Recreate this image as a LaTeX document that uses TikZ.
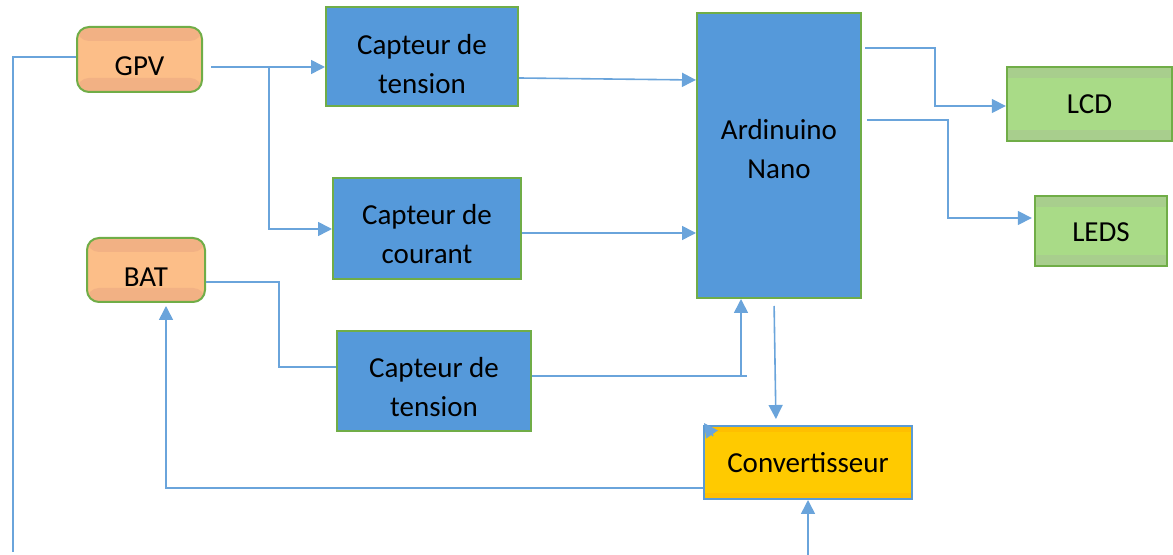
\documentclass[tikz,border=0pt]{standalone}
\usepackage{fontspec}
\setmainfont{Carlito}
\usetikzlibrary{arrows.meta,calc}
\definecolor{grn}{HTML}{70AD47}
\definecolor{orL}{HTML}{FCBE88}
\definecolor{orD}{HTML}{F2B184}
\definecolor{bfill}{HTML}{5599DA}
\definecolor{conn}{HTML}{6AA4DB}
\definecolor{cborder}{HTML}{5B9BD5}
\definecolor{gL}{HTML}{A9DB87}
\definecolor{gD}{HTML}{A8CE8D}
\definecolor{yL}{HTML}{FFCA00}
\definecolor{yD}{HTML}{FFBF00}
\tikzset{
  txt/.style={align=center,font=\fontsize{14.5}{19.5}\selectfont,text=black,inner sep=0pt},
  bands/.style n args={2}{path picture={
     \fill[#1] (path picture bounding box.north west) rectangle ([yshift=-#2]path picture bounding box.north east);
     \fill[#1] (path picture bounding box.south west) rectangle ([yshift=#2]path picture bounding box.south east);}},
  orbox/.style={draw=grn,line width=1pt,rounded corners=6pt,fill=orL,bands={orD}{7pt},inner sep=0pt},
  bluebox/.style={draw=grn,line width=1pt,fill=bfill,inner sep=0pt},
  grbox/.style={draw=grn,line width=1.2pt,fill=gL,bands={gD}{5.5pt},inner sep=0pt},
  ybox/.style={draw=cborder,line width=1pt,fill=yL,bands={yD}{3pt},inner sep=0pt},
  wire/.style={draw=conn,line width=0.8pt},
  arr/.style={wire,-{Triangle[length=7pt,width=7pt]}},
}
\begin{document}
\begin{tikzpicture}[x=0.5pt,y=-0.5pt]
\useasboundingbox (0,0) rectangle (1173,555);
% boxes
\node[orbox,minimum width=62.5pt,minimum height=32.5pt,label={[txt,yshift=-3.5pt]center:GPV}] (gpv) at (139.5,59.5) {};
\node[bluebox,minimum width=96pt,minimum height=49.5pt,label={[txt,yshift=-4pt]center:{Capteur de\\tension}}] (cap1) at (422,56.5) {};
\node[bluebox,minimum width=82pt,minimum height=142.5pt,label={[txt,yshift=3pt]center:{Ardinuino\\Nano}}] (ard) at (779,155.5) {};
\node[bluebox,minimum width=94pt,minimum height=50.5pt,label={[txt,yshift=-3pt]center:{Capteur de\\courant}}] (cap2) at (427,228.5) {};
\node[orbox,minimum width=59pt,minimum height=32pt,label={[txt,yshift=-3.5pt]center:BAT}] (bat) at (146,270) {};
\node[bluebox,minimum width=97pt,minimum height=50pt,label={[txt,yshift=-3pt]center:{Capteur de\\tension}}] (cap3) at (434,381) {};
\node[ybox,minimum width=104pt,minimum height=36.5pt,label={[txt]center:Convertisseur}] (conv) at (808,462.5) {};
\node[grbox,minimum width=82.5pt,minimum height=37pt,label={[txt]center:LCD}] (lcd) at (1089.5,104) {};
\node[grbox,minimum width=66pt,minimum height=35pt,label={[txt,yshift=-0.5pt]center:LEDS}] (leds) at (1101,231) {};
% free ends
\coordinate (gpvend) at (13,552);
\coordinate (j1) at (269,67);
\coordinate (convin) at (808,555);
% connectors
\draw[wire,line width=1pt] (gpv.west|-0,57) -| (gpvend);
\draw[arr,shorten <=4pt] (gpv.east|-0,67) -- (cap1.west|-0,67);
\draw[arr] (j1) |- (cap2.west|-0,229);
\draw[arr] (cap1.east|-0,78) -- (ard.west|-0,80);
\draw[arr] (cap2.east|-0,233) -- (ard.west|-0,233);
\draw[wire] (bat.east|-0,282) -| (279,367) -- (cap3.west|-0,367);
\draw[wire] (cap3.east|-0,376) -- (747,376);
\draw[arr] (741,376) -- (ard.south-|741,0);
\draw[arr,shorten <=3.5pt,shorten >=3pt] (ard.south-|774,0) -- (conv.north-|776,0);
\draw[arr,shorten >=1.5pt] (conv.west|-0,488) -| (bat.south-|166,0);
\draw[arr] (convin) -- (conv.south-|808,0);
\draw[arr] ($(conv.north west)+(10,11)$) -- ($(conv.north west)+(1,-2)$);
\draw[arr,shorten <=1.5pt] (ard.east|-0,48) -| (935,106) -- (lcd.west|-0,106);
\draw[arr,shorten <=2.5pt,shorten >=1pt] (ard.east|-0,120) -| (948,218) -- (leds.west|-0,218);
\end{tikzpicture}
\end{document}
